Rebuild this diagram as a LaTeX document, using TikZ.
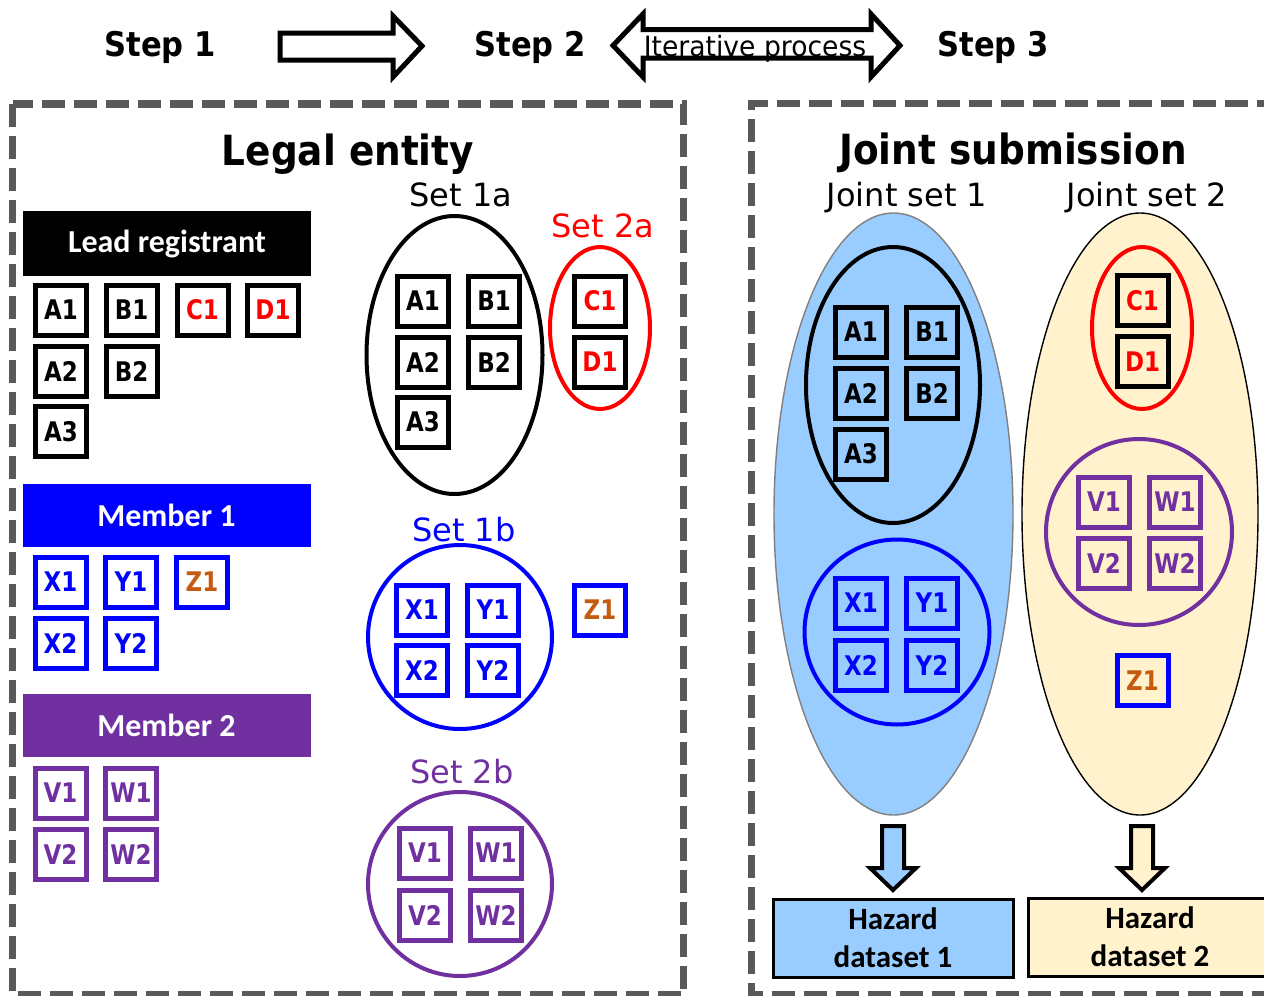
\documentclass[tikz,border=0pt]{standalone}
\usepackage{fontspec}
\usetikzlibrary{shapes.geometric}
\setmainfont{DejaVu Sans}
\newfontfamily\boxfnt{DejaVu Sans}[FakeStretch=0.85]
\newfontfamily\headfnt{DejaVu Sans}[FakeStretch=0.9]
\newfontfamily\iterfnt{DejaVu Sans}[FakeStretch=0.95]
\newfontfamily\calfnt{Carlito}
\definecolor{myred}{HTML}{FF0000}
\definecolor{myblue}{HTML}{0000FF}
\definecolor{mypurple}{HTML}{7030A0}
\definecolor{myorange}{HTML}{C55A11}
\definecolor{lightblue}{HTML}{99CCFF}
\definecolor{lightyellow}{HTML}{FFF2CC}
\definecolor{dashgray}{HTML}{595959}
\tikzset{
  regbox/.style={draw, line width=2.5pt, minimum width=25.5pt, minimum height=25pt, inner sep=0pt,
    font=\boxfnt\bfseries\fontsize{13.5}{14}\selectfont},
  dashbox/.style={draw=dashgray, line width=3.75pt, dash pattern=on 11.5pt off 4.5pt},
  ring/.style={draw, line width=2pt, inner sep=0pt},
  setlabel/.style={font=\fontsize{16}{18}\selectfont, inner sep=0pt, anchor=base},
  steplabel/.style={font=\headfnt\bfseries\fontsize{17}{19}\selectfont, inner sep=0pt, anchor=base},
  titlelabel/.style={font=\headfnt\bfseries\fontsize{20.8}{22}\selectfont, inner sep=0pt, anchor=base},
  banner/.style={minimum width=144pt, minimum height=31.5pt, inner sep=0pt, text=white,
    font=\calfnt\bfseries\fontsize{16}{17}\selectfont},
  bigarrow/.style={draw, line width=2.5pt, fill=white, line join=miter},
  downarrow/.style={draw, line width=2pt, line join=miter},
  hazard/.style={draw, line width=1.5pt, inner sep=0pt, align=center,
    font=\calfnt\bfseries\fontsize{15.5}{19}\selectfont}
}
\newcommand\regbox[6]{\node[regbox, draw=#4, text=#5] (#1) at (#2,#3) {#6};}
\begin{document}
\begin{tikzpicture}[x=0.5pt, y=-0.5pt]
\useasboundingbox (0,0) rectangle (1264,996);
\clip (0,0) rectangle (1264,996);

% header
\node[steplabel] (step1) at (160,56) {Step 1};
\node[steplabel] (step2) at (530,56) {Step 2};
\node[steplabel] (step3) at (993,56) {Step 3};
\draw[bigarrow] (280,33) -- (393,33) -- (393,16) -- (422,46) -- (393,77) -- (393,60) -- (280,60) -- cycle;
\draw[bigarrow] (613,45.5) -- (643,14) -- (643,29.5) -- (871,29.5) -- (871,14) -- (900,45.5) -- (871,77) -- (871,58) -- (643,58) -- (643,77) -- cycle;
\node[font=\iterfnt\fontsize{14}{16}\selectfont, anchor=base, inner sep=0pt] (iter) at (755,56) {Iterative process};

% dashed frames
\draw[dashbox] (12.5,104) rectangle (683.5,995);
\draw[dashbox] (1280,103.5) -- (751.5,103.5) -- (751.5,995) -- (1280,995);

% titles
\node[titlelabel] (legal) at (348,165) {Legal entity};
\node[titlelabel] (joint) at (1013,164) {Joint submission};

% left column
\node[banner, fill=black, minimum height=32.5pt] (lead) at (167,243.5) {Lead registrant};
\regbox{lA1}{61}{310}{black}{black}{A1}
\regbox{lB1}{131.5}{310}{black}{black}{B1}
\regbox{lC1}{202.5}{310}{black}{myred}{C1}
\regbox{lD1}{273}{310}{black}{myred}{D1}
\regbox{lA2}{61}{371}{black}{black}{A2}
\regbox{lB2}{131.5}{371}{black}{black}{B2}
\regbox{lA3}{61}{431.5}{black}{black}{A3}

\node[banner, fill=myblue] (mem1) at (166.5,515) {Member 1};
\regbox{lX1}{60.5}{582}{myblue}{myblue}{X1}
\regbox{lY1}{131}{582}{myblue}{myblue}{Y1}
\regbox{lZ1}{202}{582}{myblue}{myorange}{Z1}
\regbox{lX2}{60.5}{643}{myblue}{myblue}{X2}
\regbox{lY2}{131}{643}{myblue}{myblue}{Y2}

\node[banner, fill=mypurple] (mem2) at (166.5,725.5) {Member 2};
\regbox{lV1}{60.5}{793}{mypurple}{mypurple}{V1}
\regbox{lW1}{131}{793}{mypurple}{mypurple}{W1}
\regbox{lV2}{60.5}{854}{mypurple}{mypurple}{V2}
\regbox{lW2}{131}{854}{mypurple}{mypurple}{W2}

% middle column sets
\node[setlabel] (s1a) at (461,206) {Set 1a};
\node[ring, ellipse, minimum width=88pt, minimum height=139pt] (e1a) at (454.5,355) {};
\regbox{mA1}{423}{301}{black}{black}{A1}
\regbox{mB1}{494}{301}{black}{black}{B1}
\regbox{mA2}{423}{362}{black}{black}{A2}
\regbox{mB2}{494}{362}{black}{black}{B2}
\regbox{mA3}{423}{422}{black}{black}{A3}

\node[setlabel, text=myred] (s2a) at (603,237) {Set 2a};
\node[ring, draw=myred, ellipse, minimum width=50pt, minimum height=81pt] (e2a) at (600,328) {};
\regbox{mC1}{600}{301}{black}{myred}{C1}
\regbox{mD1}{600}{362}{black}{myred}{D1}

\node[setlabel, text=myblue] (s1b) at (464,541) {Set 1b};
\node[ring, draw=myblue, circle, minimum size=92pt] (c1b) at (460,637) {};
\regbox{mX1}{422}{610}{myblue}{myblue}{X1}
\regbox{mY1}{493}{610}{myblue}{myblue}{Y1}
\regbox{mX2}{422}{670}{myblue}{myblue}{X2}
\regbox{mY2}{493}{670}{myblue}{myblue}{Y2}
\regbox{mZ1}{600}{610}{myblue}{myorange}{Z1}

\node[setlabel, text=mypurple] (s2b) at (462,783) {Set 2b};
\node[ring, draw=mypurple, circle, minimum size=92pt] (c2b) at (460,884) {};
\regbox{mV1}{425}{853}{mypurple}{mypurple}{V1}
\regbox{mW1}{496}{853}{mypurple}{mypurple}{W1}
\regbox{mV2}{425}{915}{mypurple}{mypurple}{V2}
\regbox{mW2}{496}{915}{mypurple}{mypurple}{W2}

% right: joint sets
\node[setlabel] (js1) at (907,206) {Joint set 1};
\node[setlabel] (js2) at (1147,206) {Joint set 2};

\node[draw=gray, line width=0.7pt, fill=lightblue, ellipse, minimum width=119.5pt, minimum height=301pt, inner sep=0pt] (big1) at (893.5,514) {};
\node[ring, ellipse, minimum width=87pt, minimum height=138pt] (je1) at (893,385) {};
\regbox{jA1}{861}{332}{black}{black}{A1}
\regbox{jB1}{932}{332}{black}{black}{B1}
\regbox{jA2}{861}{393}{black}{black}{A2}
\regbox{jB2}{932}{393}{black}{black}{B2}
\regbox{jA3}{861}{454}{black}{black}{A3}
\node[ring, draw=myblue, circle, minimum size=92.5pt] (jc1) at (897,632) {};
\regbox{jX1}{861}{603}{myblue}{myblue}{X1}
\regbox{jY1}{932}{603}{myblue}{myblue}{Y1}
\regbox{jX2}{861}{665}{myblue}{myblue}{X2}
\regbox{jY2}{932}{665}{myblue}{myblue}{Y2}

\node[draw=black, line width=0.7pt, fill=lightyellow, ellipse, minimum width=118pt, minimum height=301pt, inner sep=0pt] (big2) at (1140,514) {};
\node[ring, draw=myred, ellipse, minimum width=50pt, minimum height=81pt] (je2) at (1142,328) {};
\regbox{jC1}{1142.5}{300.5}{black}{myred}{C1}
\regbox{jD1}{1142.5}{361.5}{black}{myred}{D1}
\node[ring, draw=mypurple, circle, minimum size=93pt] (jc2) at (1139,532) {};
\regbox{jV1}{1104}{502}{mypurple}{mypurple}{V1}
\regbox{jW1}{1175}{502}{mypurple}{mypurple}{W1}
\regbox{jV2}{1104}{563}{mypurple}{mypurple}{V2}
\regbox{jW2}{1175}{563}{mypurple}{mypurple}{W2}
\regbox{jZ1}{1142.5}{680.5}{myblue}{myorange}{Z1}

% down arrows
\draw[downarrow, fill=lightblue] (882,826) -- (904,826) -- (904,868) -- (916,868) -- (893,890) -- (870,868) -- (882,868) -- cycle;
\draw[downarrow, fill=lightyellow] (1131,826) -- (1153,826) -- (1153,868) -- (1165,868) -- (1142,890) -- (1119,868) -- (1131,868) -- cycle;

% hazard datasets
\node[hazard, fill=lightblue, minimum width=120pt, minimum height=39pt] (hz1) at (893,938) {Hazard\\dataset 1};
\node[hazard, fill=lightyellow, minimum width=122pt, minimum height=39pt] (hz2) at (1150,937) {Hazard\\dataset 2};
\end{tikzpicture}
\end{document}
